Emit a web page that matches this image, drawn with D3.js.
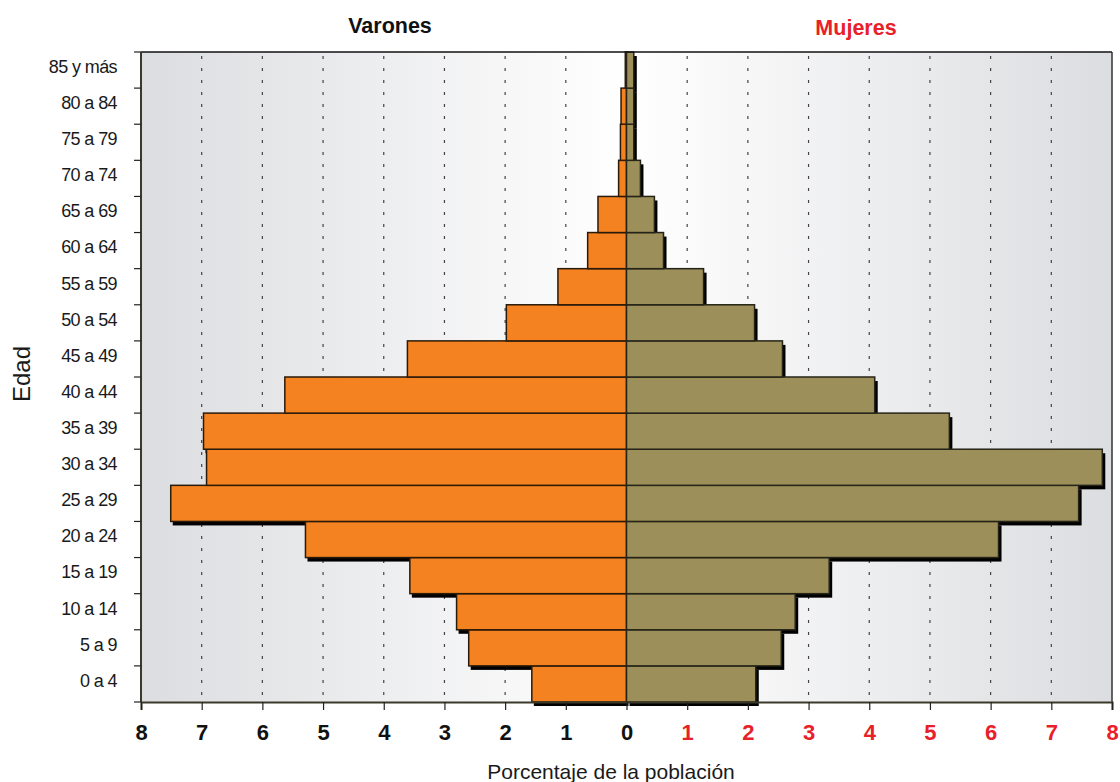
<!DOCTYPE html>
<html>
<head>
<meta charset="utf-8">
<script src="https://cdn.jsdelivr.net/npm/d3@7"></script>
<style>
  body { margin: 0; background: #fff; }
  svg { font-family: "Liberation Sans", Arial, sans-serif; }
</style>
</head>
<body>
<div id="viz"></div>
<script>
// age groups, bottom to top
var ageGroups = ["0 a 4", "5 a 9", "10 a 14", "15 a 19", "20 a 24", "25 a 29", "30 a 34",
                 "35 a 39", "40 a 44", "45 a 49", "50 a 54", "55 a 59", "60 a 64",
                 "65 a 69", "70 a 74", "75 a 79", "80 a 84", "85 y más"];
var varones = [1.56, 2.6, 2.8, 3.57, 5.29, 7.51, 6.92, 6.97, 5.63, 3.61, 1.98, 1.13, 0.64,
               0.47, 0.13, 0.1, 0.09, 0.02];
var mujeres = [2.13, 2.55, 2.78, 3.34, 6.13, 7.45, 7.84, 5.32, 4.09, 2.57, 2.11, 1.27, 0.61,
               0.46, 0.23, 0.12, 0.12, 0.12];
var tickVals = [-8, -7, -6, -5, -4, -3, -2, -1, 0, 1, 2, 3, 4, 5, 6, 7, 8];
var gridVals = [-7, -6, -5, -4, -3, -2, -1, 1, 2, 3, 4, 5, 6, 7];

var W = 1120, H = 782;
var margin = {left: 141, right: 1112, top: 52, bottom: 702};

var svg = d3.select("#viz").append("svg")
    .attr("width", W)
    .attr("height", H);

var x = d3.scaleLinear().domain([-8, 8]).range([margin.left, margin.right]);
var y = d3.scaleBand().domain(ageGroups.slice().reverse()).range([margin.top, margin.bottom]).padding(0);

// background gradient (gray - white - gray)
var defs = svg.append("defs");
var grad = defs.append("linearGradient").attr("id", "bg").attr("x1", "0").attr("x2", "1").attr("y1", "0").attr("y2", "0");
grad.append("stop").attr("offset", "0%").attr("stop-color", "#dcdde0");
grad.append("stop").attr("offset", "50%").attr("stop-color", "#ffffff");
grad.append("stop").attr("offset", "100%").attr("stop-color", "#dcdde0");

svg.append("rect")
    .attr("x", margin.left).attr("y", margin.top)
    .attr("width", margin.right - margin.left).attr("height", margin.bottom - margin.top)
    .attr("fill", "url(#bg)");

// dotted grid
svg.append("g").selectAll("line")
    .data(gridVals)
    .enter().append("line")
    .attr("x1", function(d) { return x(d); })
    .attr("x2", function(d) { return x(d); })
    .attr("y1", margin.top + 4)
    .attr("y2", margin.bottom)
    .attr("stroke", "#444")
    .attr("stroke-width", 1.2)
    .attr("stroke-dasharray", "3,9");

var rows = ageGroups.map(function(g, i) { return {age: g, m: varones[i], f: mujeres[i]}; });

// shadows first
var shadow = svg.append("g");
shadow.selectAll("rect.ms")
    .data(rows).enter().append("rect")
    .attr("x", function(d) { return x(-d.m) + 2; })
    .attr("y", function(d) { return y(d.age) + 4; })
    .attr("width", function(d) { return x(0) - x(-d.m); })
    .attr("height", y.bandwidth())
    .attr("fill", "#000");
shadow.selectAll("rect.fs")
    .data(rows).enter().append("rect")
    .attr("x", x(0) + 3)
    .attr("y", function(d) { return y(d.age) + 4; })
    .attr("width", function(d) { return x(d.f) - x(0); })
    .attr("height", y.bandwidth())
    .attr("fill", "#000");

var bars = svg.append("g");
bars.selectAll("rect.m")
    .data(rows).enter().append("rect")
    .attr("x", function(d) { return x(-d.m); })
    .attr("y", function(d) { return y(d.age); })
    .attr("width", function(d) { return x(0) - x(-d.m); })
    .attr("height", y.bandwidth())
    .attr("fill", "#f58220")
    .attr("stroke", "#2a1a0a")
    .attr("stroke-width", 1.5);
bars.selectAll("rect.f")
    .data(rows).enter().append("rect")
    .attr("x", x(0))
    .attr("y", function(d) { return y(d.age); })
    .attr("width", function(d) { return x(d.f) - x(0); })
    .attr("height", y.bandwidth())
    .attr("fill", "#9c8f5a")
    .attr("stroke", "#262418")
    .attr("stroke-width", 1.5);

// frame: top and right border
svg.append("line").attr("x1", margin.left).attr("x2", margin.right).attr("y1", margin.top).attr("y2", margin.top)
    .attr("stroke", "#111").attr("stroke-width", 1.5);
svg.append("line").attr("x1", margin.right).attr("x2", margin.right).attr("y1", margin.top).attr("y2", margin.bottom)
    .attr("stroke", "#333").attr("stroke-width", 1.5);

// y axis
var yAxis = svg.append("g")
    .attr("transform", "translate(" + margin.left + ",0)");
yAxis.append("line").attr("x1", 0).attr("x2", 0).attr("y1", margin.top).attr("y2", margin.bottom)
    .attr("stroke", "#3a3a2a").attr("stroke-width", 2);
var bounds = d3.range(ageGroups.length + 1).map(function(i) { return margin.top + i * y.bandwidth(); });
yAxis.selectAll("line.tk")
    .data(bounds).enter().append("line")
    .attr("x1", -7).attr("x2", 0)
    .attr("y1", function(d) { return d; }).attr("y2", function(d) { return d; })
    .attr("stroke", "#222").attr("stroke-width", 1.2);
yAxis.selectAll("text")
    .data(ageGroups).enter().append("text")
    .attr("x", -24)
    .attr("y", function(d) { return y(d) + y.bandwidth() / 2 - 3.5; })
    .attr("dy", "0.35em")
    .attr("text-anchor", "end")
    .attr("font-size", 18)
    .attr("letter-spacing", "-0.6")
    .attr("fill", "#1a1a1a")
    .text(function(d) { return d; });

// x axis
var xAxis = svg.append("g")
    .attr("transform", "translate(0," + margin.bottom + ")")
    .call(d3.axisBottom(x).tickValues(tickVals).tickSize(8).tickFormat(function(d) { return Math.abs(d); }));
xAxis.select(".domain").attr("stroke", "#3a3a2a").attr("stroke-width", 2);
xAxis.selectAll(".tick line").attr("stroke", "#222").attr("stroke-width", 1.2);
xAxis.selectAll(".tick text")
    .attr("y", 22)
    .attr("font-family", "'Liberation Sans', Arial, sans-serif")
    .attr("font-size", 22)
    .attr("font-weight", "bold")
    .attr("fill", function(d) { return d > 0 ? "#e8202a" : "#111"; });

// titles
svg.append("text")
    .attr("x", 390).attr("y", 33)
    .attr("text-anchor", "middle")
    .attr("font-size", 21.5).attr("font-weight", "bold")
    .attr("fill", "#111")
    .text("Varones");
svg.append("text")
    .attr("x", 856).attr("y", 35)
    .attr("text-anchor", "middle")
    .attr("font-size", 21.5).attr("font-weight", "bold")
    .attr("fill", "#e8202a")
    .text("Mujeres");

svg.append("text")
    .attr("transform", "translate(30,374) rotate(-90)")
    .attr("text-anchor", "middle")
    .attr("font-size", 24)
    .attr("fill", "#1a1a1a")
    .text("Edad");

svg.append("text")
    .attr("x", 611).attr("y", 779)
    .attr("text-anchor", "middle")
    .attr("font-size", 21)
    .attr("fill", "#1a1a1a")
    .text("Porcentaje de la población");
</script>
</body>
</html>
